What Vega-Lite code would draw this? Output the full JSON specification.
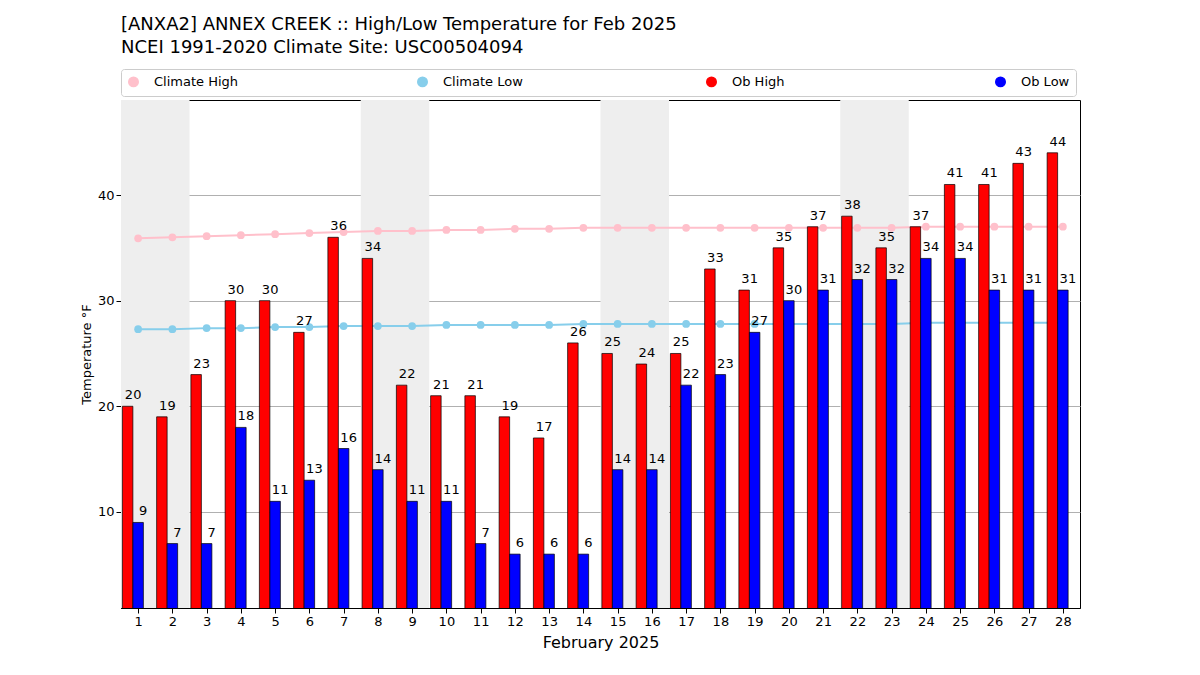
{
  "$schema": "https://vega.github.io/schema/vega-lite/v6.json",
  "width": 959,
  "height": 508,
  "autosize": {"type": "none"},
  "padding": {"left": 121, "top": 100, "right": 120, "bottom": 67},
  "background": "white",
  "config": {
    "font": "DejaVu Sans",
    "view": {"stroke": "black"},
    "axis": {"labelFontSize": 13, "titleFontWeight": "normal", "labelColor": "black", "titleColor": "black", "tickColor": "black", "domainColor": "black"},
    "legend": {
      "orient": "none", "legendX": 0, "legendY": -31, "direction": "horizontal", "columns": 4,
      "gridAlign": "all", "columnPadding": 175, "labelFontSize": 13, "labelColor": "black",
      "symbolSize": 90, "symbolType": "circle", "fillColor": "white", "strokeColor": "#cccccc",
      "padding": 6, "cornerRadius": 3, "title": null, "labelLimit": 200, "labelOffset": 14
    }
  },
  "title": {
    "text": ["[ANXA2] ANNEX CREEK :: High/Low Temperature for Feb 2025", "NCEI 1991-2020 Climate Site: USC00504094"],
    "anchor": "start",
    "frame": "group",
    "fontSize": 18,
    "fontWeight": "normal",
    "lineHeight": 23,
    "offset": 12
  },
  "data": {
    "values": [
      {"day": 1, "high": 20, "low": 9, "chigh": 35.9, "clow": 27.3},
      {"day": 2, "high": 19, "low": 7, "chigh": 36.0, "clow": 27.3},
      {"day": 3, "high": 23, "low": 7, "chigh": 36.1, "clow": 27.4},
      {"day": 4, "high": 30, "low": 18, "chigh": 36.2, "clow": 27.4},
      {"day": 5, "high": 30, "low": 11, "chigh": 36.3, "clow": 27.5},
      {"day": 6, "high": 27, "low": 13, "chigh": 36.4, "clow": 27.5},
      {"day": 7, "high": 36, "low": 16, "chigh": 36.5, "clow": 27.6},
      {"day": 8, "high": 34, "low": 14, "chigh": 36.6, "clow": 27.6},
      {"day": 9, "high": 22, "low": 11, "chigh": 36.6, "clow": 27.6},
      {"day": 10, "high": 21, "low": 11, "chigh": 36.7, "clow": 27.7},
      {"day": 11, "high": 21, "low": 7, "chigh": 36.7, "clow": 27.7},
      {"day": 12, "high": 19, "low": 6, "chigh": 36.8, "clow": 27.7},
      {"day": 13, "high": 17, "low": 6, "chigh": 36.8, "clow": 27.7},
      {"day": 14, "high": 26, "low": 6, "chigh": 36.9, "clow": 27.8},
      {"day": 15, "high": 25, "low": 14, "chigh": 36.9, "clow": 27.8},
      {"day": 16, "high": 24, "low": 14, "chigh": 36.9, "clow": 27.8},
      {"day": 17, "high": 25, "low": 22, "chigh": 36.9, "clow": 27.8},
      {"day": 18, "high": 33, "low": 23, "chigh": 36.9, "clow": 27.8},
      {"day": 19, "high": 31, "low": 27, "chigh": 36.9, "clow": 27.8},
      {"day": 20, "high": 35, "low": 30, "chigh": 36.9, "clow": 27.8},
      {"day": 21, "high": 37, "low": 31, "chigh": 36.9, "clow": 27.8},
      {"day": 22, "high": 38, "low": 32, "chigh": 36.9, "clow": 27.8},
      {"day": 23, "high": 35, "low": 32, "chigh": 36.9, "clow": 27.8},
      {"day": 24, "high": 37, "low": 34, "chigh": 37.0, "clow": 27.9},
      {"day": 25, "high": 41, "low": 34, "chigh": 37.0, "clow": 27.9},
      {"day": 26, "high": 41, "low": 31, "chigh": 37.0, "clow": 27.9},
      {"day": 27, "high": 43, "low": 31, "chigh": 37.0, "clow": 27.9},
      {"day": 28, "high": 44, "low": 31, "chigh": 37.0, "clow": 27.9}
    ]
  },
  "encoding": {
    "x": {
      "field": "day", "type": "quantitative",
      "scale": {"domain": [0.5, 28.5], "nice": false, "zero": false, "padding": 0},
      "axis": {"values": [1,2,3,4,5,6,7,8,9,10,11,12,13,14,15,16,17,18,19,20,21,22,23,24,25,26,27,28], "grid": false, "title": "February 2025", "titleFontSize": 16, "titlePadding": 6}
    }
  },
  "layer": [
    {
      "data": {"values": [{"a": 0.5, "b": 2.5}, {"a": 7.5, "b": 9.5}, {"a": 14.5, "b": 16.5}, {"a": 21.5, "b": 23.5}]},
      "mark": {"type": "rect", "color": "#eeeeee"},
      "encoding": {
        "x": {"field": "a", "type": "quantitative"},
        "x2": {"field": "b"}
      }
    },
    {
      "mark": {"type": "rule", "opacity": 0},
      "encoding": {
        "y": {
          "field": "high", "type": "quantitative",
          "scale": {"domain": [0.9, 49], "nice": false, "zero": false},
          "axis": {"values": [10, 20, 30, 40], "grid": true, "gridColor": "#b0b0b0", "title": "Temperature °F", "titleFontSize": 13}
        }
      }
    },
    {
      "mark": {"type": "line", "strokeWidth": 2, "point": {"size": 60, "filled": true}},
      "encoding": {
        "y": {"field": "chigh", "type": "quantitative"},
        "color": {
          "datum": "Climate High",
          "scale": {"domain": ["Climate High", "Climate Low", "Ob High", "Ob Low"], "range": ["pink", "skyblue", "red", "blue"]}
        }
      }
    },
    {
      "mark": {"type": "line", "strokeWidth": 2, "point": {"size": 60, "filled": true}},
      "encoding": {
        "y": {"field": "clow", "type": "quantitative"},
        "color": {"datum": "Climate Low"}
      }
    },
    {
      "mark": {"type": "bar", "width": 10.5, "xOffset": -10.5, "stroke": "black", "strokeWidth": 0.7, "clip": true},
      "encoding": {
        "y": {"field": "high", "type": "quantitative"},
        "y2": {"datum": 0},
        "color": {"datum": "Ob High"}
      }
    },
    {
      "mark": {"type": "bar", "width": 10.5, "xOffset": 0, "stroke": "black", "strokeWidth": 0.7, "clip": true},
      "encoding": {
        "y": {"field": "low", "type": "quantitative"},
        "y2": {"datum": 0},
        "color": {"datum": "Ob Low"}
      }
    },
    {
      "mark": {"type": "text", "fontSize": 13, "dx": -5, "dy": -11},
      "encoding": {
        "y": {"field": "high", "type": "quantitative"},
        "text": {"field": "high"}
      }
    },
    {
      "mark": {"type": "text", "fontSize": 13, "dx": 5, "dy": -11},
      "encoding": {
        "y": {"field": "low", "type": "quantitative"},
        "text": {"field": "low"}
      }
    }
  ]
}
